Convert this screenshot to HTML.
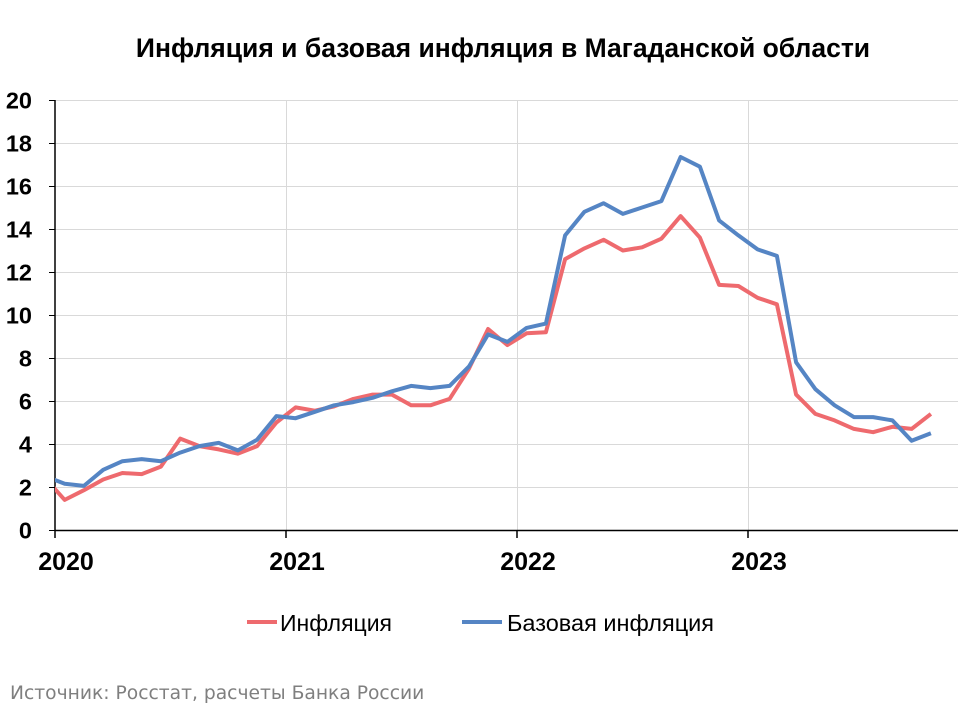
<!DOCTYPE html>
<html><head><meta charset="utf-8"><style>
body{margin:0;background:#fff;width:960px;height:720px;overflow:hidden;font-family:"Liberation Sans",sans-serif}
</style></head><body>
<svg id="s" width="960" height="720" xmlns="http://www.w3.org/2000/svg" font-family="Liberation Sans, sans-serif">
<defs><clipPath id="c"><rect x="55" y="90" width="905" height="445"/></clipPath></defs>
<text x="503" y="57" font-size="26.5" font-weight="bold" text-anchor="middle">Инфляция и базовая инфляция в Магаданской области</text>
<g id="grid" stroke="#d9d9d9" stroke-width="1"></g>
<g id="ylab" font-size="23.5" font-weight="bold" text-anchor="end"></g>
<line x1="55" y1="100" x2="55" y2="531" stroke="#000" stroke-width="1.5"/>
<line x1="55" y1="530.5" x2="958" y2="530.5" stroke="#000" stroke-width="1.5"/>
<g font-size="25" font-weight="bold" text-anchor="middle">
<text x="66" y="570">2020</text><text x="297" y="570">2021</text><text x="528" y="570">2022</text><text x="759" y="570">2023</text>
</g>
<g stroke="#000" stroke-width="1.5"><line x1="55" y1="530" x2="55" y2="538"/><line x1="286" y1="530" x2="286" y2="538"/><line x1="517" y1="530" x2="517" y2="538"/><line x1="748" y1="530" x2="748" y2="538"/></g>
<g clip-path="url(#c)">
<polyline id="r" fill="none" stroke="#ee6a6e" stroke-width="4" stroke-linejoin="round"/>
<polyline id="b" fill="none" stroke="#5585c4" stroke-width="4" stroke-linejoin="round"/>
</g>
<line x1="247" y1="622" x2="277" y2="622" stroke="#ee6a6e" stroke-width="4"/>
<text x="280" y="631" font-size="23">Инфляция</text>
<line x1="462" y1="622" x2="502" y2="622" stroke="#5585c4" stroke-width="4"/>
<text x="507" y="631" font-size="23.5">Базовая инфляция</text>
<text x="10" y="699" font-size="18.7" fill="#7f7f7f" font-family="DejaVu Sans, sans-serif">Источник: Росстат, расчеты Банка России</text>
</svg>
<script>
var red=[2.4,1.4,1.85,2.35,2.65,2.6,2.95,4.25,3.9,3.75,3.55,3.9,5.0,5.7,5.55,5.75,6.1,6.3,6.3,5.8,5.8,6.1,7.5,9.35,8.6,9.15,9.2,12.6,13.1,13.5,13.0,13.15,13.55,14.6,13.6,11.4,11.35,10.8,10.5,6.3,5.4,5.1,4.7,4.55,4.8,4.7,5.4];
var blue=[2.5,2.15,2.05,2.8,3.2,3.3,3.2,3.6,3.9,4.05,3.7,4.2,5.3,5.2,5.5,5.8,5.95,6.15,6.45,6.7,6.6,6.7,7.6,9.1,8.75,9.4,9.6,13.7,14.8,15.2,14.7,15.0,15.3,17.35,16.9,14.4,13.7,13.05,12.75,7.8,6.55,5.8,5.25,5.25,5.1,4.15,4.5];
function pts(a){return a.map(function(v,i){return (45.4+19.25*i).toFixed(1)+","+(530-v*21.5).toFixed(1)}).join(" ")}
document.getElementById("r").setAttribute("points",pts(red));
document.getElementById("b").setAttribute("points",pts(blue));
var ns="http://www.w3.org/2000/svg",g=document.getElementById("grid"),yl=document.getElementById("ylab");
for(var v=0;v<=20;v+=2){var y=530-v*21.5;
 if(v>0){var l=document.createElementNS(ns,"line");l.setAttribute("x1",55);l.setAttribute("x2",958);l.setAttribute("y1",y+0.5);l.setAttribute("y2",y+0.5);g.appendChild(l);}
 var t=document.createElementNS(ns,"text");t.setAttribute("x",32);t.setAttribute("y",y+8.5);t.textContent=v;yl.appendChild(t);
 var k=document.createElementNS(ns,"line");k.setAttribute("x1",49);k.setAttribute("x2",55);k.setAttribute("y1",y+0.5);k.setAttribute("y2",y+0.5);k.setAttribute("stroke","#000");g.appendChild(k);}
[286,517,748].forEach(function(x){var l=document.createElementNS(ns,"line");l.setAttribute("x1",x+0.5);l.setAttribute("x2",x+0.5);l.setAttribute("y1",100);l.setAttribute("y2",530);g.appendChild(l);});
</script>
</body></html>
